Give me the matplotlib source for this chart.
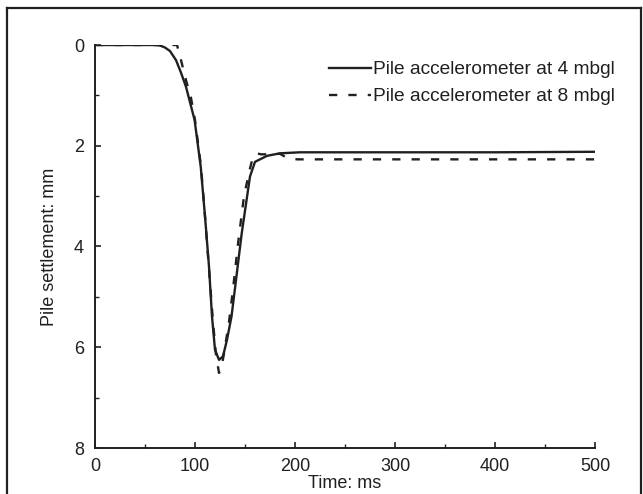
import matplotlib
matplotlib.use("Agg")
import matplotlib.pyplot as plt
from matplotlib.lines import Line2D
from matplotlib.ticker import MultipleLocator

plt.rcParams['font.family'] = ['Liberation Sans', 'DejaVu Sans']

# Data
t_4m = [0, 60, 65, 70, 75, 81, 86, 91, 99.6, 105.7, 110, 114, 117, 120, 124, 128,
        132, 136.5, 140.6, 146.7, 155, 160, 172, 185, 205, 300, 400, 500]
s_4m = [0, 0, 0.01, 0.05, 0.12, 0.30, 0.55, 0.83, 1.49, 2.41, 3.40, 4.40, 5.39, 6.05,
        6.25, 6.18, 5.85, 5.39, 4.73, 3.74, 2.61, 2.32, 2.20, 2.15, 2.13, 2.13, 2.13, 2.12]

t_8m = [0, 82, 86, 91, 96, 100, 106, 110, 114, 118, 121, 124, 127, 130, 134, 138,
        143, 149, 155, 158, 161.7, 166, 175, 185, 192, 202, 300, 400, 500]
s_8m = [0, 0, 0.3, 0.7, 1.05, 1.49, 2.41, 3.40, 4.45, 5.5, 6.15, 6.51, 6.35, 6.0,
        5.5, 4.85, 3.95, 3.0, 2.45, 2.22, 2.15, 2.17, 2.17, 2.16, 2.24, 2.27, 2.27, 2.27, 2.27]

labels = ['Pile accelerometer at 4 mbgl', 'Pile accelerometer at 8 mbgl']
xlabel = 'Time: ms'
ylabel = 'Pile settlement: mm'

W, H = 643, 494
fig = plt.figure(figsize=(W / 100, H / 100), dpi=100)
ax = fig.add_axes([95 / W, 1 - 448 / H, 500 / W, 403 / H])

col = '#231f20'
ax.plot(t_4m, s_4m, color=col, lw=1.7, label=labels[0])
ax.plot(t_8m, s_8m, color=col, lw=1.7, dashes=(3.5, 4.7), label=labels[1])

ax.set_xlim(0, 500)
ax.set_ylim(8, 0)
ax.xaxis.set_major_locator(MultipleLocator(100))
ax.xaxis.set_minor_locator(MultipleLocator(50))
ax.yaxis.set_major_locator(MultipleLocator(2))
ax.yaxis.set_minor_locator(MultipleLocator(1))
ax.tick_params(which='both', direction='in', color=col, labelcolor=col, labelsize=13)
ax.tick_params(which='major', length=4, width=1.2, pad=7)
ax.tick_params(which='minor', length=3, width=1.0)
ax.tick_params(axis='y', which='major', pad=8)
for side in ['top', 'right']:
    ax.spines[side].set_visible(False)
for side in ['left', 'bottom']:
    ax.spines[side].set_linewidth(1.4)
    ax.spines[side].set_color(col)

ax.set_xlabel(xlabel, fontsize=13, color=col, labelpad=0)
ax.set_ylabel(ylabel, fontsize=13, color=col, labelpad=11)

fig.legend(loc='upper left', bbox_to_anchor=(329 / W, 1 - 61 / H), frameon=False,
           fontsize=13.8, handlelength=2.2, handletextpad=0.1, labelspacing=0.5,
           borderpad=0, borderaxespad=0, labelcolor=col)

# outer frame
lw_frame = 1.6
fig.add_artist(Line2D([7 / W, 7 / W], [0, 1 - 8 / H], transform=fig.transFigure, color=col, lw=lw_frame))
fig.add_artist(Line2D([7 / W, 641 / W], [1 - 8 / H, 1 - 8 / H], transform=fig.transFigure, color=col, lw=lw_frame))
fig.add_artist(Line2D([641 / W, 641 / W], [0, 1 - 8 / H], transform=fig.transFigure, color=col, lw=lw_frame))

fig.savefig('out.png', dpi=100)
